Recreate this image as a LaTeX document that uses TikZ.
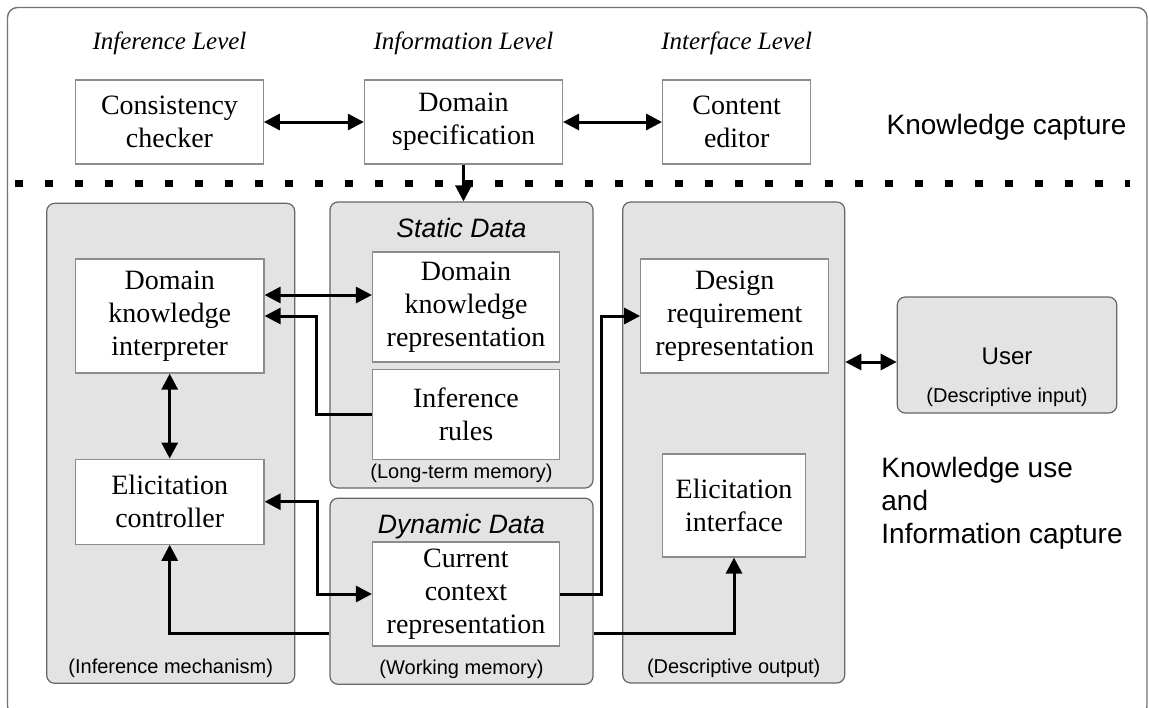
\documentclass[tikz,border=0pt]{standalone}
\usepackage{fontspec}
\setmainfont{Liberation Serif}
\setsansfont{Liberation Sans}
\usetikzlibrary{positioning, arrows.meta, calc}

\begin{document}
\begin{tikzpicture}[
  x=0.5pt, y=-0.5pt,
  box/.style={draw=black!45, line width=0.6pt, fill=white, align=center, inner sep=2pt,
              font=\fontsize{14}{16.5}\selectfont},
  panel/.style={draw=black!60, line width=0.6pt, fill=black!11, rounded corners=4pt},
  lvl/.style={font=\fontsize{12.5}{14}\selectfont\itshape, inner sep=0pt},
  ptitle/.style={font=\sffamily\itshape\fontsize{13.3}{15}\selectfont, inner sep=0pt},
  pnote/.style={font=\sffamily\fontsize{10}{12}\selectfont, inner sep=0pt},
  side/.style={font=\sffamily\fontsize{14}{16.5}\selectfont, align=left, inner sep=0pt},
  arr/.style={-{Triangle[length=8pt,width=8pt]}, line width=1.5pt},
  dbl/.style={{Triangle[length=8pt,width=8pt]}-{Triangle[length=8pt,width=8pt]}, line width=1.5pt},
  sep/.style={line width=3.5pt, dash pattern=on 4pt off 11pt},
  frame/.style={draw=black!55, line width=0.7pt, rounded corners=5pt},
]

\useasboundingbox (0,0) rectangle (1149,707);
\draw[frame] (7.5,7.5) rectangle (1147,716);

% --- Knowledge capture row ---
\node[box, minimum width=93.75pt, minimum height=42pt] (cons) at (169.5,122) {Consistency\\checker};
\node[box, minimum width=99pt, minimum height=42pt, right=50pt of cons] (dspec) {Domain\\specification};
\node[box, minimum width=74pt, minimum height=42pt, right=49.5pt of dspec] (cedit) {Content\\editor};

\node[lvl, above=12pt of cons] (linf) {Inference Level};
\node[lvl, above=12pt of dspec] (linfo) {Information Level};
\node[lvl, above=12pt of cedit] (lintf) {Interface Level};

\node[side, right=37.5pt of cedit, yshift=-2.5pt] (kcap) {Knowledge capture};

% separator
\coordinate (sepl) at (15,183);
\coordinate (sepr) at (1130,183);
\draw[sep] (sepl) -- (sepr);

% --- Panels ---
\node[panel, minimum width=124pt, minimum height=240pt] (infp) at (170.7,443.3) {};
\node[panel, minimum width=131.5pt, minimum height=143pt] (statp) at (461.5,345) {};
\node[panel, minimum width=131.5pt, minimum height=93pt, below=4.5pt of statp] (dynp) {};
\node[panel, minimum width=111pt, minimum height=240.5pt] (descp) at (733.7,442.5) {};
\node[panel, minimum width=109.75pt, minimum height=58pt] (user) at (1007,355) {};

\node[ptitle, below=8pt of statp.north] (stitle) {Static Data};
\node[pnote, above=3pt of statp.south] (snote) {(Long-term memory)};
\node[ptitle, below=8pt of dynp.north] (dtitle) {Dynamic Data};
\node[pnote, above=3pt of dynp.south] (dnote) {(Working memory)};
\node[pnote, above=3pt of infp.south] (inote) {(Inference mechanism)};
\node[pnote, above=3pt of descp.south] (onote) {(Descriptive output)};

\node[pnote, above=3.5pt of user.south] (uin) {(Descriptive input)};
\node[font=\sffamily\fontsize{12}{14}\selectfont, inner sep=0pt, above=11pt of uin] (uname) {User};

% --- Inner boxes ---
\node[box, minimum width=94.3pt, minimum height=57pt] (dki) at (169.7,316) {Domain\\knowledge\\interpreter};
\node[box, minimum width=94.3pt, minimum height=42.5pt, below=42.5pt of dki] (elc) {Elicitation\\controller};
\node[box, minimum width=93.5pt, minimum height=55pt] (dkr) at (466,307) {Domain\\knowledge\\representation};
\node[box, minimum width=93.5pt, minimum height=45pt, below=3pt of dkr] (irl) {Inference\\rules};
\node[box, minimum width=93.5pt, minimum height=52pt] (ccr) at (466,594) {Current\\context\\representation};
\node[box, minimum width=94pt, minimum height=57pt] (drr) at (734.7,316) {Design\\requirement\\representation};
\node[box, minimum width=71.75pt, minimum height=51.5pt] (eli) at (734,505.5) {Elicitation\\interface};

\node[side, anchor=west] (kuse) at (881,503) {Knowledge use\\and\\Information capture};

% --- Arrows ---
\draw[dbl] (cons.east) -- (cons.east -| dspec.west);
\draw[dbl] (dspec.east) -- (dspec.east -| cedit.west);
\draw[arr] (dspec.south) -- (dspec.south |- statp.north);

\coordinate (dkia) at ([yshift=10.5pt]dki.east);
\draw[dbl] (dkia) -- (dkia -| dkr.west);
\draw[arr] (irl.west) -- ++(-55,0) |- (dki.east);
\draw[dbl] (dki.south) -- (elc.north);
\draw[dbl] (elc.east) -- ++(53,0) |- (ccr.west);

\coordinate (ccsw) at (dynp.west |- ccr.south);
\coordinate (ccse) at (dynp.east |- ccr.south);
\coordinate (dynl) at ([yshift=6.5pt]ccsw);
\coordinate (dynr) at ([yshift=6.5pt]ccse);
\draw[arr] (dynl) -| (elc.south);
\draw[arr] (dynr) -| (eli.south);
\draw[arr] (ccr.east) -- ++(41,0) |- (drr.west);

\coordinate (usra) at ([yshift=-3.5pt]user.west);
\draw[dbl] (usra -| descp.east) -- (usra);

\end{tikzpicture}
\end{document}
